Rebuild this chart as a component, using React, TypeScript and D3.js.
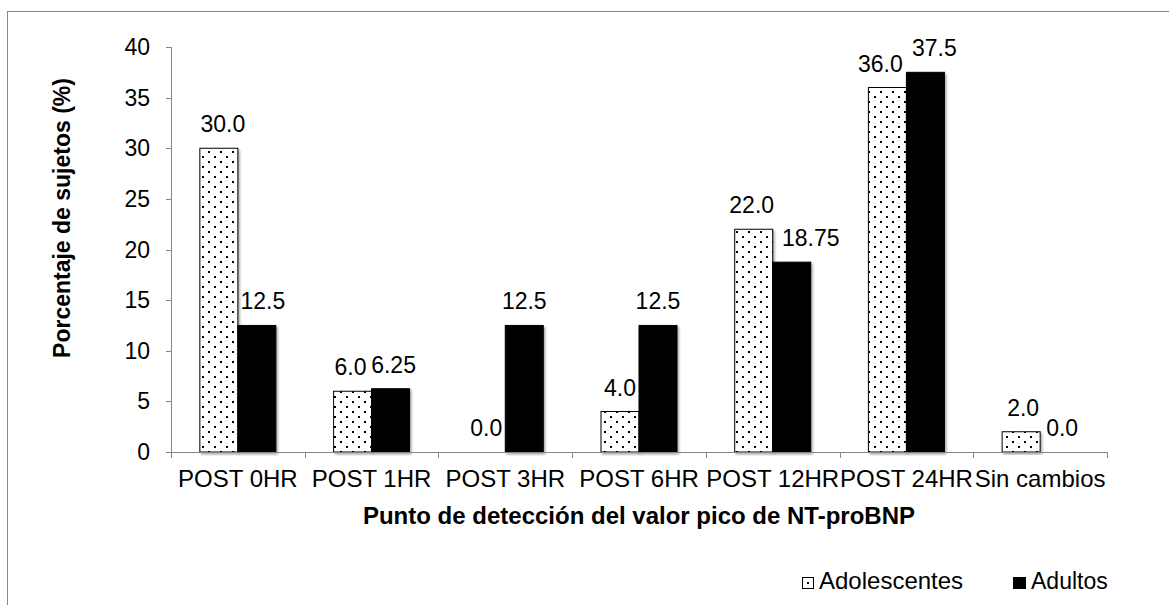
import React from "react";
import * as d3 from "d3";

const categories = ["POST 0HR", "POST 1HR", "POST 3HR", "POST 6HR", "POST 12HR", "POST 24HR", "Sin cambios"];
const adolescentes = [30.0, 6.0, 0.0, 4.0, 22.0, 36.0, 2.0];
const adultos = [12.5, 6.25, 12.5, 12.5, 18.75, 37.5, 0.0];
const adolescentesLabels = ["30.0", "6.0", "0.0", "4.0", "22.0", "36.0", "2.0"];
const adultosLabels = ["12.5", "6.25", "12.5", "12.5", "18.75", "37.5", "0.0"];
const yTicks = [0, 5, 10, 15, 20, 25, 30, 35, 40];

// horizontal nudges that keep neighbouring value labels apart
const adolescentesNudge = [4, -2, 0, 0, -2, -7, 2];
const adultosNudge = [6, 3, 0, 0, 19, 9, 3];

const W = 1169;
const H = 605;
const left = 171;
const right = 1107;
const top = 47;
const bottom = 452;
const barW = 38;
const fs = 23;
const catFs = 24;
const font = "'Liberation Sans', Arial, sans-serif";
const axisColor = "#868686";

export default function App() {
  const x = d3.scaleBand<string>().domain(categories).range([left, right]);
  const y = d3.scaleLinear().domain([0, 40]).range([bottom, top]);

  const series = [
    { name: "Adolescentes", values: adolescentes, labels: adolescentesLabels, nudge: adolescentesNudge, fill: "url(#dots)", offset: -barW },
    { name: "Adultos", values: adultos, labels: adultosLabels, nudge: adultosNudge, fill: "#000", offset: 0 },
  ];

  return (
    <svg width={W} height={H} style={{ position: "absolute", left: 0, top: 0 }} fontFamily={font}>
      <defs>
        <pattern id="dots" width={12} height={10} patternUnits="userSpaceOnUse" x={left} y={0}>
          <rect width={12} height={10} fill="#fff" />
          <rect x={1} y={1} width={2} height={2} fill="#000" />
          <rect x={7} y={6} width={2} height={2} fill="#000" />
        </pattern>
        <filter id="shadow" x="-20%" y="-5%" width="140%" height="115%">
          <feDropShadow dx={1.5} dy={2} stdDeviation={1.2} floodColor="#000" floodOpacity={0.35} />
        </filter>
      </defs>
      <rect x={0} y={0} width={W} height={H} fill="#fff" />
      <rect x={7.5} y={11.5} width={W + 10} height={H + 10} fill="none" stroke={axisColor} strokeWidth={1} />

      {/* y axis */}
      <line x1={left + 0.5} x2={left + 0.5} y1={top} y2={bottom} stroke={axisColor} />
      {yTicks.map((t) => (
        <g key={t}>
          <line x1={left - 5} x2={left} y1={Math.round(y(t)) + 0.5} y2={Math.round(y(t)) + 0.5} stroke={axisColor} />
          <text x={150} y={y(t)} dy="0.35em" textAnchor="end" fontSize={fs} fill="#000">
            {t}
          </text>
        </g>
      ))}

      {/* bars */}
      {series.map((s) =>
        categories.map((c, i) => {
          const cx = (x(c) as number) + x.bandwidth() / 2;
          const v = s.values[i];
          return v > 0 ? (
            <rect
              key={s.name + c}
              x={cx + s.offset}
              y={y(v)}
              width={barW}
              height={y(0) - y(v)}
              fill={s.fill}
              stroke="#000"
              strokeWidth={1}
              filter="url(#shadow)"
            />
          ) : null;
        })
      )}

      {/* value labels */}
      {series.map((s) =>
        categories.map((c, i) => {
          const cx = (x(c) as number) + x.bandwidth() / 2;
          return (
            <text
              key={"l" + s.name + c}
              x={cx + s.offset + barW / 2 + s.nudge[i]}
              y={y(s.values[i]) - 16}
              textAnchor="middle"
              fontSize={fs}
              fill="#000"
            >
              {s.labels[i]}
            </text>
          );
        })
      )}

      {/* x axis */}
      <line x1={left} x2={right + 1} y1={bottom + 0.5} y2={bottom + 0.5} stroke={axisColor} />
      {[...categories.map((c) => x(c) as number), right].map((p, i) => (
        <line key={i} x1={Math.round(p) + 0.5} x2={Math.round(p) + 0.5} y1={bottom} y2={bottom + 6} stroke={axisColor} />
      ))}
      {categories.map((c) => (
        <text key={c} x={(x(c) as number) + x.bandwidth() / 2} y={487} textAnchor="middle" fontSize={catFs} fill="#000">
          {c}
        </text>
      ))}

      <text x={639} y={524} textAnchor="middle" fontSize={catFs} fontWeight="bold" fill="#000">
        Punto de detección del valor pico de NT-proBNP
      </text>
      <text
        transform={`translate(70, 218) rotate(-90)`}
        textAnchor="middle"
        fontSize={fs}
        fontWeight="bold"
        fill="#000"
      >
        Porcentaje de sujetos (%)
      </text>

      {/* legend */}
      <rect x={802.5} y={577.5} width={11} height={11} fill="#fff" stroke="#000" />
      <rect x={807} y={582} width={2} height={2} fill="#000" />
      <text x={819} y={589} fontSize={catFs} fill="#000">Adolescentes</text>
      <rect x={1013} y={577} width={13} height={12} fill="#000" />
      <text x={1031} y={589} fontSize={fs} fill="#000">Adultos</text>
    </svg>
  );
}
